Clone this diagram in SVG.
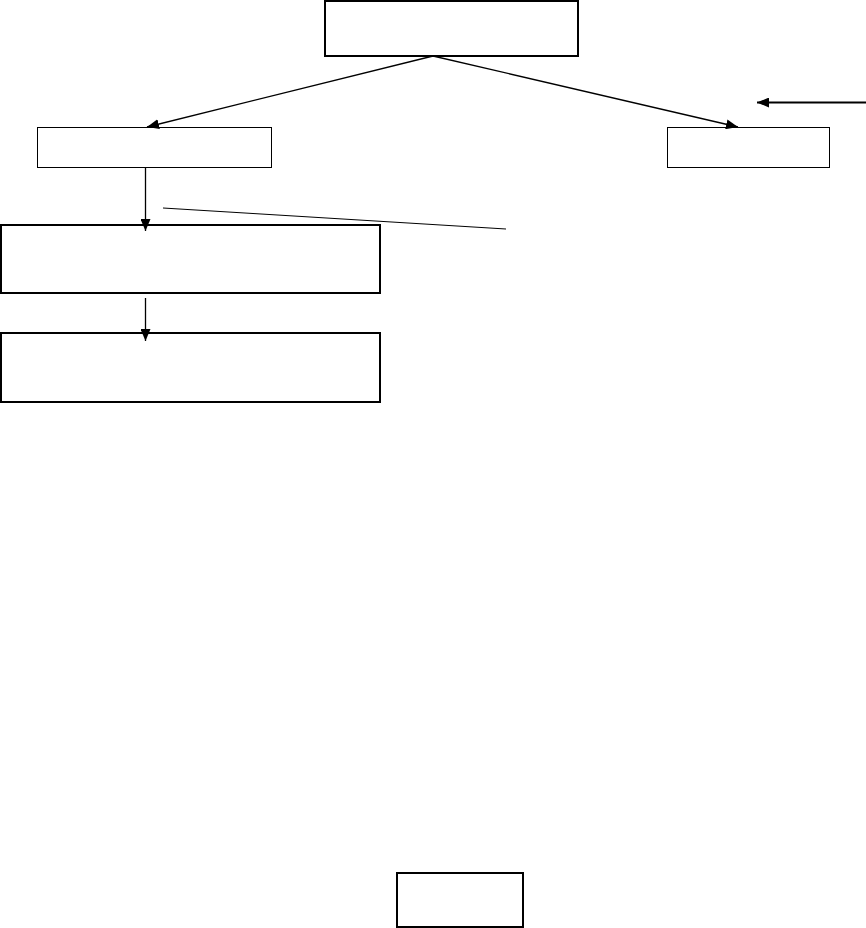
<svg xmlns="http://www.w3.org/2000/svg" width="866" height="928" viewBox="0 0 866 928">
<style>
.box{fill:#fff;stroke:#000}
.thick{stroke-width:2}
.thin{stroke-width:1}
.con{fill:none;stroke:#000;stroke-width:1.3}
</style>
<defs>
<marker id="ah" markerUnits="userSpaceOnUse" markerWidth="12" markerHeight="10" refX="12" refY="5" orient="auto">
<path d="M0,0 L12,5 L0,10 Z" fill="#000"/>
</marker>
</defs>
<rect width="866" height="928" fill="#fff"/>
<g id="top"><rect class="box thick" x="325" y="1" width="253" height="55"/></g>
<g id="left"><rect class="box thin" x="37.5" y="127.5" width="234" height="40"/></g>
<g id="right"><rect class="box thin" x="667.5" y="127.5" width="162" height="40"/></g>
<g id="mid"><rect class="box thick" x="1" y="225" width="379" height="68"/></g>
<g id="lower"><rect class="box thick" x="1" y="333" width="379" height="69"/></g>
<g id="bottom"><rect class="box thick" x="397" y="873" width="126" height="54"/></g>
<g id="connectors">
<line class="con" x1="433" y1="56" x2="147" y2="127" marker-end="url(#ah)"/>
<line class="con" x1="433" y1="56" x2="738" y2="127" marker-end="url(#ah)"/>
<line class="con" x1="866" y1="102.5" x2="757" y2="102.5" style="stroke-width:2" marker-end="url(#ah)"/>
<line class="con" x1="145.5" y1="168" x2="145.5" y2="231" marker-end="url(#ah)"/>
<line class="con" x1="145.5" y1="298" x2="145.5" y2="341" marker-end="url(#ah)"/>
<line class="con" x1="163" y1="208" x2="506" y2="229" style="stroke-width:1"/>
</g>
</svg>
